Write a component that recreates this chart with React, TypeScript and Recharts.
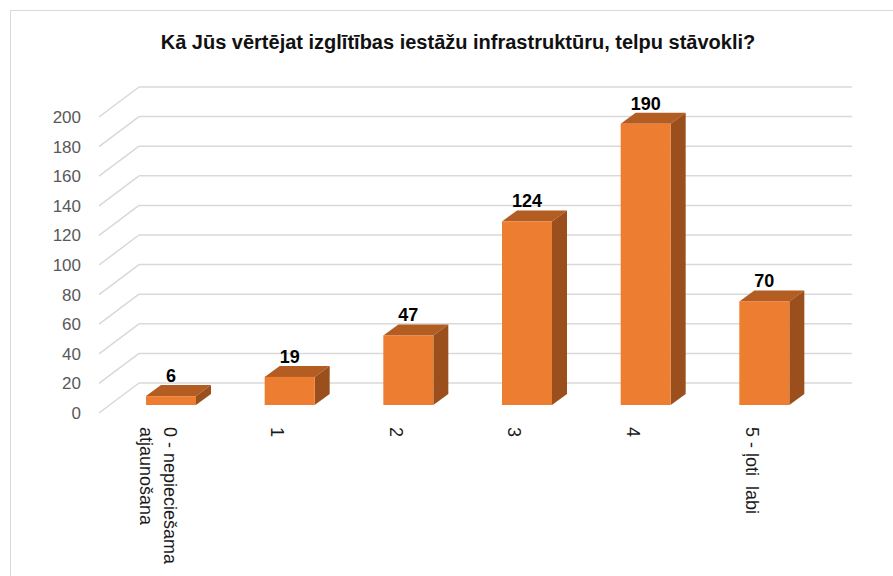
import { Bar, BarChart, CartesianGrid, LabelList, XAxis, YAxis } from "recharts";

const title = "Kā Jūs vērtējat izglītības iestāžu infrastruktūru, telpu stāvokli?";
const categories = ["0 - nepieciešama\natjaunošana", "1", "2", "3", "4", "5 - ļoti  labi"];
const counts = [6, 19, 47, 124, 190, 70];
const yTicks = [0, 20, 40, 60, 80, 100, 120, 140, 160, 180, 200];

const data = categories.map((c, i) => ({ category: c, count: counts[i] }));

// fake 3d: depth offset of the bars and of the floor/back wall
const DX = 15;
const DY = 11;
const FRONT = "#ED7D31";
const TOP = "#B45D22";
const SIDE = "#9A4F1C";
const GRID = "#D9D9D9";
const FONT = "'Liberation Sans', Arial, sans-serif";

const Box = (props: any) => {
    const { x, y, width, height } = props;
    const r = x + width;
    return (
        <g>
            <polygon points={`${x},${y} ${x + DX},${y - DY} ${r + DX},${y - DY} ${r},${y}`} fill={TOP} />
            <polygon points={`${r},${y} ${r + DX},${y - DY} ${r + DX},${y + height - DY} ${r},${y + height}`} fill={SIDE} />
            <rect x={x} y={y} width={width} height={height} fill={FRONT} />
        </g>
    );
};

const GridLine = (p: any) => {
    const { x1, x2, y1 } = p;
    return (
        <g key={p.key}>
            <line x1={x1 - 13} y1={y1 + 8} x2={x1 + 27} y2={y1 - 22} stroke={GRID} strokeWidth={1.5} />
            <line x1={x1 + 27} y1={y1 - 22} x2={x2 + 28} y2={y1 - 22} stroke={GRID} strokeWidth={1.5} />
        </g>
    );
};

const YTick = (p: any) => (
    <text x={p.x - 23} y={p.y + 8} dy="0.35em" textAnchor="end" fill="#595959" fontSize={17} fontFamily={FONT}>
        {p.payload.value}
    </text>
);

const XTick = (p: any) => {
    const lines: string[] = String(p.payload.value).split("\n");
    const cx = p.x - 13;
    const y0 = p.y + 14;
    const gap = 24;
    return (
        <g>
            {lines.map((l, i) => {
                const lx = cx + ((lines.length - 1) / 2 - i) * gap;
                return (
                    <text
                        key={i}
                        x={lx}
                        y={y0}
                        transform={`rotate(90 ${lx} ${y0})`}
                        dominantBaseline="central"
                        fill="#1a1a1a"
                        fontSize={18}
                        fontFamily={FONT}
                        style={{ whiteSpace: "pre" }}
                    >
                        {l}
                    </text>
                );
            })}
        </g>
    );
};

const ValueLabel = (p: any) => (
    <text x={p.x + p.width / 2} y={p.y - 14} textAnchor="middle" fontWeight="bold" fontSize={18} fontFamily={FONT} fill="#000">
        {p.value}
    </text>
);

export default function App() {
    return (
        <div style={{ position: "absolute", left: 0, top: 0, width: 893, height: 576, background: "#fff", overflow: "hidden" }}>
            <div style={{ position: "absolute", left: 10, top: 10, width: 900, height: 600, borderTop: "1.5px solid #d9d9d9", borderLeft: "1.5px solid #d9d9d9" }} />
            <div style={{ position: "absolute", left: 10, top: 31, width: 896, textAlign: "center", fontFamily: FONT, fontWeight: "bold", fontSize: 20, color: "#111" }}>
                {title}
            </div>
            <div style={{ position: "absolute", left: 0, top: 0 }}>
                <BarChart
                    width={893}
                    height={576}
                    data={data}
                    margin={{ top: 109, right: 69, bottom: 71, left: 12 }}
                    barSize={50}
                >
                    <CartesianGrid vertical={false} horizontal={GridLine} />
                    <XAxis dataKey="category" axisLine={false} tickLine={false} height={100} interval={0} tick={XTick} />
                    <YAxis width={100} domain={[0, 200]} ticks={yTicks} interval={0} axisLine={false} tickLine={false} tick={YTick} />
                    <Bar dataKey="count" shape={Box} isAnimationActive={false}>
                        <LabelList dataKey="count" content={ValueLabel} />
                    </Bar>
                </BarChart>
            </div>
        </div>
    );
}
